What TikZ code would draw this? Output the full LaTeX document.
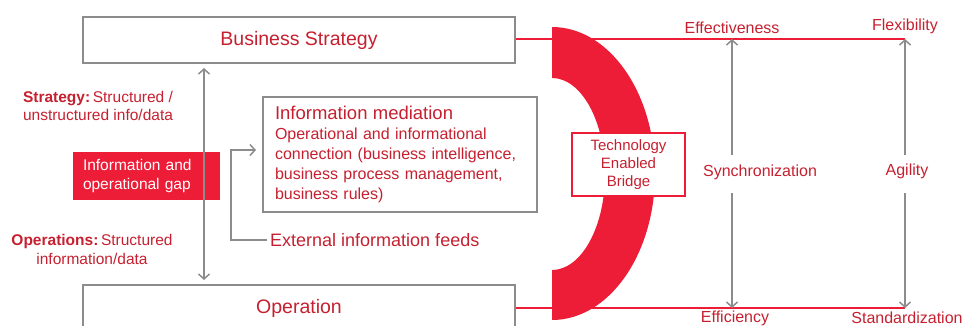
\documentclass[tikz,border=0pt]{standalone}
\usepackage{fontspec}
\setmainfont{Liberation Sans}
\usetikzlibrary{arrows.meta}
\definecolor{txtred}{RGB}{198,32,48}
\definecolor{brred}{RGB}{237,28,55}
\definecolor{lgray}{RGB}{140,140,140}
\begin{document}
\begin{tikzpicture}[x=1pt,y=-1pt,
  box/.style={draw=lgray, line width=1.5pt, fill=white, inner sep=0pt},
  arr/.style={draw=lgray, line width=1.5pt, -{Straight Barb[length=5pt,width=11pt]}},
  darr/.style={draw=lgray, line width=1.5pt, {Straight Barb[length=5pt,width=11pt]}-{Straight Barb[length=5pt,width=11pt]}},
  lbl/.style={text=txtred, inner sep=0pt},
  redline/.style={draw=brred, line width=2pt}]
\useasboundingbox (0,0) rectangle (965,325);
\clip (0,0) rectangle (965,325);
% boxes
\node[box, minimum width=432pt, minimum height=46pt, text=txtred, font=\fontsize{19.5}{22}\selectfont] (bs) at (299,40) {Business Strategy};
\node[box, minimum width=432pt, minimum height=46pt, text=txtred, font=\fontsize{19.5}{22}\selectfont] (op) at (299,308) {Operation};
\node[box, minimum width=274pt, minimum height=115pt, text width=250pt, align=left, text=txtred, inner xsep=12pt, font=\fontsize{16}{20}\selectfont] (im) at (400,154.5)
 {{\fontsize{18.5}{20}\selectfont Information mediation\par}
  Operational and informational\\ connection (business intelligence,\\ business process management,\\ business rules)};
\node[fill=brred, minimum width=147pt, minimum height=48pt, text width=127pt, inner xsep=10pt, align=left, text=white, font=\fontsize{15.5}{19}\selectfont] (gap) at (146.5,176) {Information and\\ operational gap};
% left labels
\node[lbl, align=center, font=\fontsize{15.5}{18}\selectfont] (strat) at (98,106) {\textbf{Strategy:}\,Structured /\\ unstructured info/data};
\node[lbl, align=center, font=\fontsize{15.5}{19}\selectfont] (oper) at (92,249) {\textbf{Operations:}\,Structured\\ information/data};
\node[lbl, anchor=west, font=\fontsize{18}{20}\selectfont] (ext) at (270,240) {External information feeds};
% left arrows
\coordinate (la1) at (204,68);
\coordinate (la2) at (204,280);
\draw[darr] (la1) -- (la2);
\coordinate (ea) at (231,240);
\coordinate (eb) at (231,150);
\coordinate (ec) at (256,150);
\draw[arr] ([xshift=-3pt]ext.west) -- (ea) -- (eb) -- (ec);
% red lines
\coordinate (r1) at (905,39);
\coordinate (r2) at (905,308);
\draw[redline] (bs.east |- r1) -- (r1);
\draw[redline] (op.east |- r2) -- (r2);
% bridge
\fill[brred] (552,27) arc[start angle=90, end angle=-90, x radius=103pt, y radius=146.5pt]
  -- (552,270) arc[start angle=-90, end angle=90, x radius=53pt, y radius=96pt] -- cycle;
\node[draw=brred, line width=2pt, fill=white, minimum width=113pt, minimum height=63pt, align=center, text=txtred, inner sep=0pt, font=\fontsize{15}{18}\selectfont] (tb) at (628.5,164.5) {Technology\\ Enabled\\ Bridge};
% right labels
\node[lbl, font=\fontsize{16}{18}\selectfont] (eff) at (732,28) {Effectiveness};
\node[lbl, font=\fontsize{16}{18}\selectfont] (flex) at (905,26) {Flexibility};
\node[lbl, font=\fontsize{16}{18}\selectfont] (sync) at (760,172) {Synchronization};
\node[lbl, font=\fontsize{16}{18}\selectfont] (agil) at (907,171) {Agility};
\node[lbl, font=\fontsize{16}{18}\selectfont] (effic) at (735,318) {Efficiency};
\node[lbl, font=\fontsize{16}{18}\selectfont] (std) at (907,318) {Standardization};
% right arrows
\coordinate (e1) at (732,39);
\coordinate (e2) at (732,308);
\coordinate (s1) at (732,155);
\coordinate (s2) at (732,193);
\coordinate (a1) at (905,155);
\coordinate (a2) at (905,193);
\draw[arr] (s1) -- (e1);
\draw[arr] (s2) -- (e2);
\draw[arr] (a1) -- (r1);
\draw[arr] (a2) -- (r2);
\end{tikzpicture}
\end{document}
